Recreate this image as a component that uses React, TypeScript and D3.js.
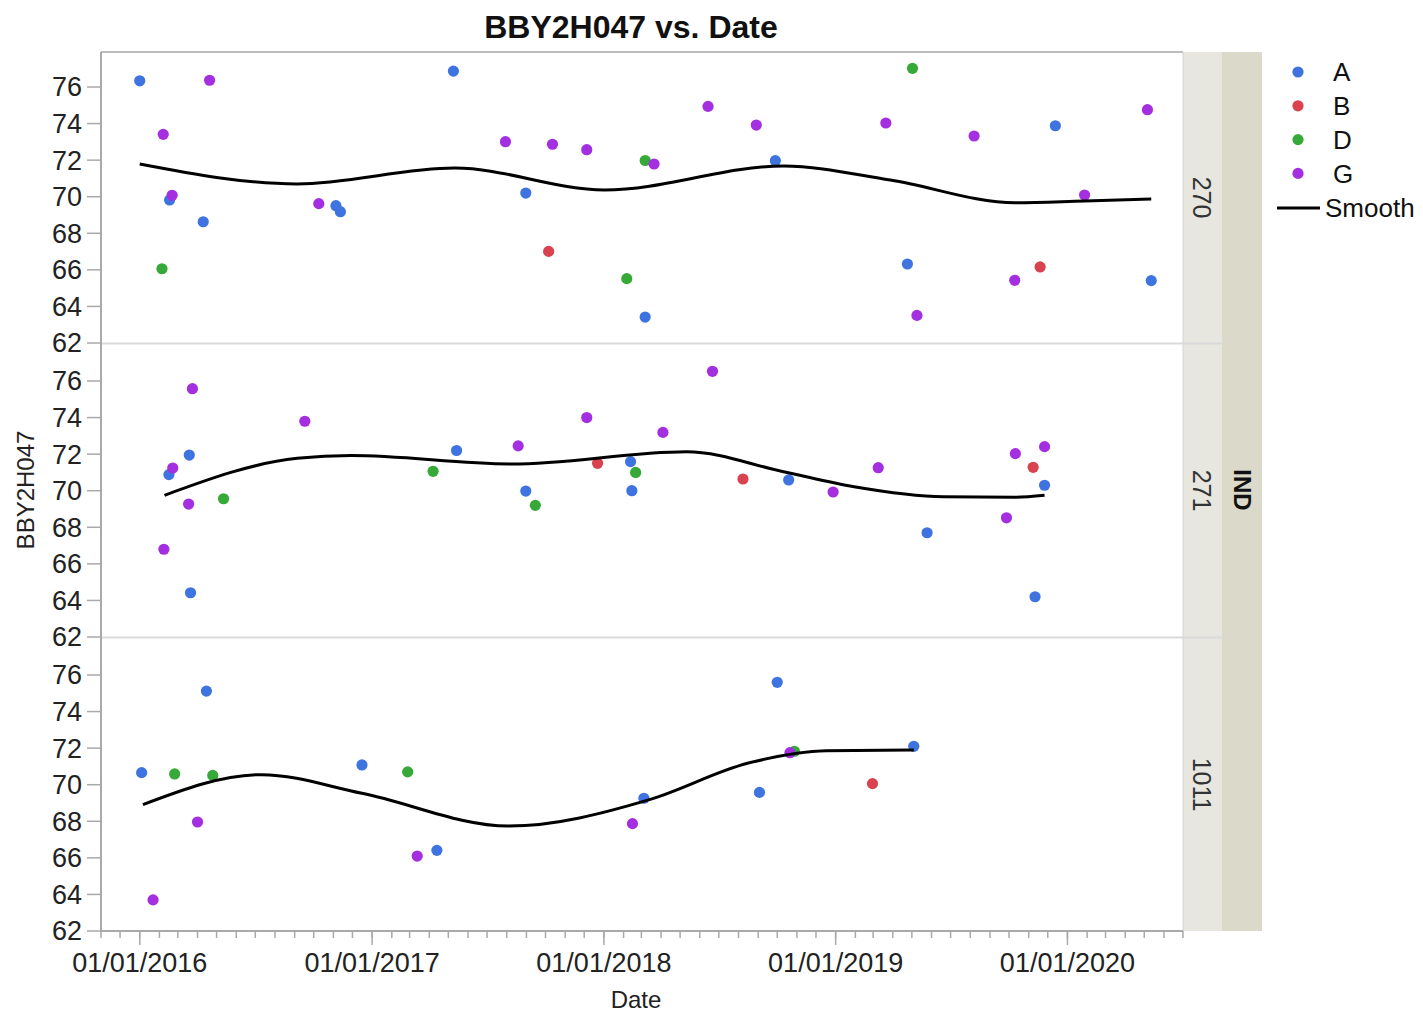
import React from "react";
import * as d3 from "d3";

type Pt = [string, number];

const panelLabels = ["270", "271", "1011"];
const groupNames = ["A", "B", "D", "G"];
const groupColors = ["#3f74e0", "#d8434f", "#36a938", "#a32fe0"];
const yTicks = [62, 64, 66, 68, 70, 72, 74, 76];
const titleText = "BBY2H047 vs. Date";
const yTitle = "BBY2H047";
const xTitle = "Date";
const facetTitle = "IND";

// IND = 270
const ind270A: Pt[] = [["2016-01-01", 76.34], ["2016-02-17", 69.82], ["2016-04-10", 68.63], ["2016-11-05", 69.51], ["2016-11-12", 69.18], ["2017-05-09", 76.87], ["2017-08-31", 70.2], ["2018-03-07", 63.42], ["2018-09-28", 71.97], ["2019-04-24", 66.32], ["2019-12-13", 73.88], ["2020-05-12", 65.41]];
const ind270B: Pt[] = [["2017-10-06", 67.01], ["2019-11-19", 66.16]];
const ind270D: Pt[] = [["2016-02-05", 66.06], ["2018-02-06", 65.52], ["2018-03-07", 71.98], ["2019-05-02", 77.02]];
const ind270G: Pt[] = [["2016-02-07", 73.41], ["2016-02-21", 70.08], ["2016-04-20", 76.37], ["2016-10-09", 69.62], ["2017-07-30", 73.01], ["2017-10-12", 72.87], ["2017-12-05", 72.57], ["2018-03-21", 71.79], ["2018-06-14", 74.94], ["2018-08-29", 73.92], ["2019-03-21", 74.03], ["2019-05-09", 63.51], ["2019-08-07", 73.32], ["2019-10-10", 65.43], ["2020-01-28", 70.09], ["2020-05-06", 74.76]];
const smooth270: Pt[] = [["2016-01-01", 71.79], ["2016-09-05", 70.7], ["2017-05-11", 71.57], ["2018-01-02", 70.37], ["2018-10-11", 71.68], ["2019-03-28", 70.91], ["2019-10-11", 69.67], ["2020-01-28", 69.77], ["2020-05-12", 69.87]];

// IND = 271
const ind271A: Pt[] = [["2016-02-16", 70.88], ["2016-03-19", 71.95], ["2016-03-21", 64.42], ["2017-05-14", 72.2], ["2017-08-31", 69.98], ["2018-02-12", 71.59], ["2018-02-14", 70.0], ["2018-10-19", 70.59], ["2019-05-25", 67.7], ["2019-11-26", 70.3], ["2019-11-11", 64.2]];
const ind271B: Pt[] = [["2017-12-22", 71.5], ["2018-08-08", 70.64], ["2019-11-08", 71.28]];
const ind271D: Pt[] = [["2016-05-12", 69.56], ["2017-04-07", 71.06], ["2017-09-15", 69.2], ["2018-02-20", 71.0]];
const ind271G: Pt[] = [["2016-03-24", 75.58], ["2016-02-22", 71.24], ["2016-03-18", 69.27], ["2016-02-08", 66.8], ["2016-09-17", 73.8], ["2017-08-19", 72.45], ["2017-12-05", 74.0], ["2018-06-21", 76.53], ["2018-04-04", 73.19], ["2019-03-09", 71.26], ["2018-12-28", 69.93], ["2019-10-11", 72.03], ["2019-11-26", 72.41], ["2019-09-27", 68.52]];
const smooth271: Pt[] = [["2016-02-09", 69.75], ["2016-09-05", 71.77], ["2016-11-29", 71.92], ["2017-08-09", 71.46], ["2018-05-11", 72.13], ["2018-10-11", 71.04], ["2019-01-30", 70.22], ["2019-06-20", 69.67], ["2019-10-11", 69.64], ["2019-11-26", 69.75]];

// IND = 1011
const ind1011A: Pt[] = [["2016-01-04", 70.66], ["2016-04-15", 75.12], ["2016-12-16", 71.08], ["2017-04-13", 66.41], ["2018-03-05", 69.26], ["2018-09-03", 69.58], ["2018-10-01", 75.6], ["2019-05-04", 72.1]];
const ind1011B: Pt[] = [["2019-02-28", 70.06]];
const ind1011D: Pt[] = [["2016-02-25", 70.59], ["2016-04-25", 70.51], ["2017-02-26", 70.7], ["2018-10-28", 71.83]];
const ind1011G: Pt[] = [["2016-04-01", 67.96], ["2016-01-22", 63.7], ["2017-03-13", 66.1], ["2018-02-15", 67.87], ["2018-10-21", 71.75]];
const smooth1011: Pt[] = [["2016-01-06", 68.91], ["2016-07-11", 70.55], ["2016-12-16", 69.53], ["2017-08-04", 67.74], ["2018-03-15", 69.2], ["2018-08-15", 71.17], ["2018-12-17", 71.86], ["2019-05-04", 71.9]];

const panelPoints: Pt[][][] = [
  [ind270A, ind270B, ind270D, ind270G],
  [ind271A, ind271B, ind271D, ind271G],
  [ind1011A, ind1011B, ind1011D, ind1011G],
];
const panelSmooth: Pt[][] = [smooth270, smooth271, smooth1011];

const parse = d3.timeParse("%Y-%m-%d");
const fmt = d3.timeFormat("%m/%d/%Y");

const W = 1423;
const H = 1014;
const plotLeft = 101;
const plotRight = 1183;
const panelTops = [52, 344, 638];
const panelBottoms = [343, 637, 931];
const FONT = "'Liberation Sans', Arial, sans-serif";

export default function App() {
  const domainStart = new Date(2015, 10, 1);
  const domainEnd = new Date(2020, 6, 1);
  const x = d3.scaleTime().domain([domainStart, domainEnd]).range([plotLeft, plotRight]);
  const months = d3.timeMonth.range(domainStart, d3.timeDay.offset(domainEnd, 1));
  const years = d3.timeYear.range(domainStart, domainEnd);

  return (
    <svg width={W} height={H} style={{ position: "absolute", left: 0, top: 0, background: "#fff" }} fontFamily={FONT}>
      <text x={631} y={38} textAnchor="middle" fontWeight="bold" fontSize={32} fill="#111">{titleText}</text>

      {panelLabels.map((lab, i) => {
        const bottom = panelBottoms[i];
        const top = panelTops[i];
        const y = d3.scaleLinear().domain([62, 76]).range([bottom, bottom - 256]);
        const line = d3.line<Pt>()
          .x((d) => x(parse(d[0]) as Date))
          .y((d) => y(d[1]))
          .curve(d3.curveMonotoneX);
        return (
          <g key={lab}>
            <rect x={plotLeft} y={top} width={plotRight - plotLeft} height={bottom - top} fill="#fff" />
            {yTicks.map((v) => (
              <g key={v}>
                <line x1={87} x2={plotLeft} y1={y(v)} y2={y(v)} stroke="#a9a9a9" strokeWidth={1.5} />
                <text x={82} y={y(v)} dy="0.35em" textAnchor="end" fontSize={27} fill="#222">{v}</text>
              </g>
            ))}
            {panelPoints[i].map((pts, g) =>
              pts.map((d, k) => (
                <circle key={g + "-" + k} cx={x(parse(d[0]) as Date)} cy={y(d[1])} r={5.6} fill={groupColors[g]} />
              ))
            )}
            <path d={line(panelSmooth[i]) || ""} fill="none" stroke="#000" strokeWidth={3} />
            {/* strip */}
            <rect x={plotRight} y={top} width={39} height={bottom - top} fill="#e7e7e0" />
            <text transform={`translate(1202,${(top + bottom) / 2}) rotate(90)`} textAnchor="middle" dy="0.35em" fontSize={25} fill="#333">{lab}</text>
          </g>
        );
      })}

      {/* panel borders */}
      <line x1={plotLeft} x2={plotRight} y1={52} y2={52} stroke="#bdbdbd" strokeWidth={2} />
      <line x1={plotLeft} x2={1222} y1={343.5} y2={343.5} stroke="#dadada" strokeWidth={2} />
      <line x1={plotLeft} x2={1222} y1={637.5} y2={637.5} stroke="#dadada" strokeWidth={2} />
      <line x1={plotRight} x2={plotRight} y1={52} y2={931} stroke="#d6d6d0" strokeWidth={1} />
      <rect x={1222} y={52} width={40} height={879} fill="#dbd9ca" />
      <text transform="translate(1242,490) rotate(90)" textAnchor="middle" dy="0.35em" fontSize={24} fontWeight="bold" fill="#111">{facetTitle}</text>

      {/* axes */}
      <line x1={plotLeft} x2={plotLeft} y1={52} y2={932} stroke="#a9a9a9" strokeWidth={2} />
      <line x1={plotLeft} x2={plotRight} y1={931} y2={931} stroke="#a9a9a9" strokeWidth={2} />
      {months.map((m, k) => (
        <line key={k} x1={x(m)} x2={x(m)} y1={931} y2={938} stroke="#a9a9a9" strokeWidth={1.5} />
      ))}
      {years.map((yr, k) => (
        <g key={k}>
          <line x1={x(yr)} x2={x(yr)} y1={931} y2={945} stroke="#a9a9a9" strokeWidth={1.5} />
          <text x={x(yr)} y={972} textAnchor="middle" fontSize={27} fill="#222">{fmt(yr)}</text>
        </g>
      ))}
      <text x={636} y={1008} textAnchor="middle" fontSize={24} fill="#222">{xTitle}</text>
      <text transform="translate(34,490) rotate(-90)" textAnchor="middle" fontSize={24} fill="#222">{yTitle}</text>

      {/* legend */}
      {groupNames.map((g, k) => (
        <g key={g}>
          <circle cx={1298} cy={72 + k * 33.8} r={5.6} fill={groupColors[k]} />
          <text x={1333} y={72 + k * 33.8} dy="0.35em" fontSize={26} fill="#111">{g}</text>
        </g>
      ))}
      <line x1={1277} x2={1320} y1={208} y2={208} stroke="#000" strokeWidth={3} />
      <text x={1325} y={208} dy="0.35em" fontSize={26} fill="#111">Smooth</text>
    </svg>
  );
}
